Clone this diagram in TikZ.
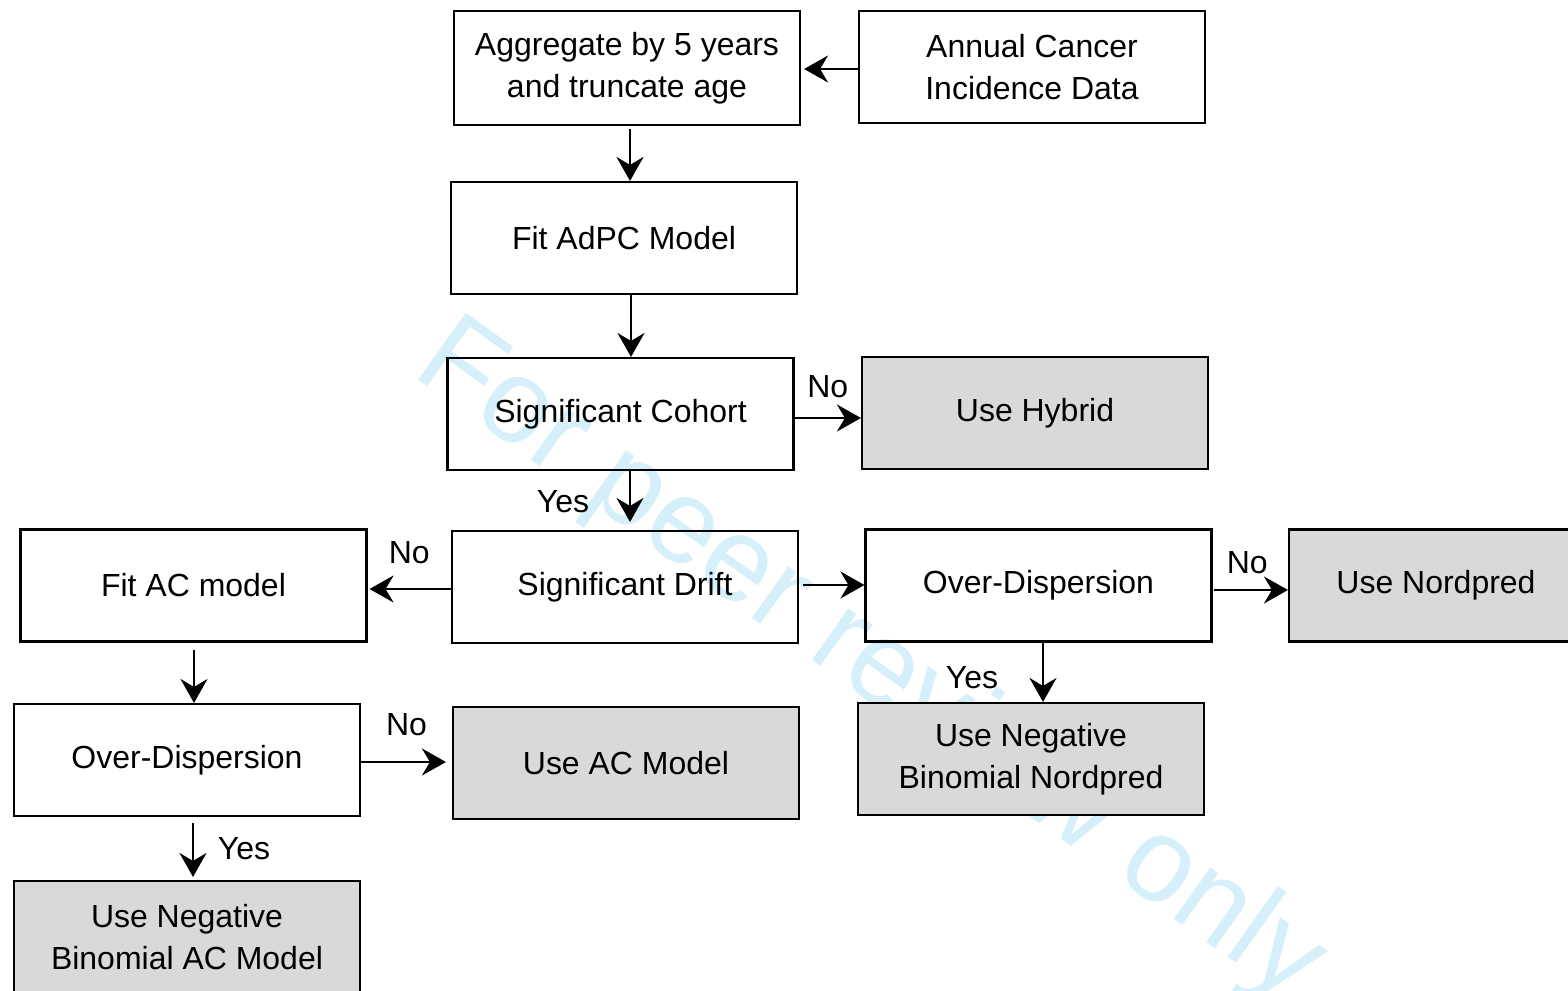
\documentclass[tikz,border=0pt]{standalone}
\usepackage{fontspec}
\setmainfont{Liberation Sans}
\usetikzlibrary{arrows.meta,positioning}
\definecolor{wmblue}{RGB}{214,240,251}
\definecolor{boxgray}{RGB}{217,217,217}
\tikzset{
>={Stealth[length=2.4mm,width=2.7mm,inset=0.8mm]}, % open-backed arrow heads
every node/.style={font=\fontsize{9.1}{12}\selectfont},
stage/.style={draw, line width=0.6pt, minimum width=3.46cm, minimum height=1.12cm, align=center, inner sep=0pt}, % plain step
result/.style={stage, fill=boxgray}, % final choice
flow/.style={->, line width=0.6pt},
lbl/.style={inner sep=0pt}
}

\begin{document}
\begin{tikzpicture}
    \useasboundingbox (0,0) rectangle (15.68,-9.90);
    \clip (0,0) rectangle (15.68,-9.90);
    % watermark behind everything
    \node[text=wmblue, font=\fontsize{34}{34}\selectfont, rotate=-35.5, anchor=base west, inner sep=0pt] (mark) at (4.10,-3.74) {For peer review only};
    % boxes
    \node[stage, minimum height=1.14cm] (agg) at (6.27,-0.68) {Aggregate by 5 years\\and truncate age};
    \node[stage] (annual) at (10.32,-0.67) {Annual Cancer\\Incidence Data};
    \node[stage] (adpc) at (6.24,-2.38) {Fit AdPC Model};
    \node[stage] (cohort) at (6.205,-4.14) {Significant Cohort};
    \node[result] (hybrid) at (10.35,-4.13) {Use Hybrid};
    \node[stage] (drift) at (6.25,-5.87) {Significant Drift};
    \node[stage] (fitac) at (1.935,-5.855) {Fit AC model};
    \node[stage] (disp) at (10.385,-5.855) {Over-Dispersion};
    \node[result, minimum width=2.94cm] (nordpred) at (14.36,-5.855) {Use Nordpred};
    \node[stage] (dispac) at (1.87,-7.60) {Over-Dispersion};
    \node[result] (useac) at (6.26,-7.63) {Use AC Model};
    \node[result] (nbnord) at (10.31,-7.59) {Use Negative\\Binomial Nordpred};
    \node[result] (nbac) at (1.87,-9.37) {Use Negative\\Binomial AC Model};
    % connectors
    \draw[flow, shorten >=0.03cm] ([yshift=-0.02cm]annual.west) -- ([yshift=-0.02cm]annual.west -| agg.east);
    \draw[flow] ([xshift=0.03cm,yshift=-0.03cm]agg.south) -- ([xshift=0.06cm]adpc.north);
    \draw[flow] ([xshift=0.07cm]adpc.south) -- ([xshift=0.07cm]adpc.south |- cohort.north);
    \draw[flow] ([yshift=-0.04cm]cohort.east) -- ([yshift=-0.04cm]cohort.east -| hybrid.west)
        node[lbl, midway, yshift=0.31cm] (no1) {No};
    \draw[flow] ([xshift=0.095cm]cohort.south) -- ([xshift=0.095cm,yshift=0.08cm]cohort.south |- drift.north)
        node[lbl, midway, xshift=-0.67cm, yshift=-0.05cm] (yes1) {Yes};
    \draw[flow, shorten >=0.02cm] ([yshift=-0.02cm]drift.west) -- ([yshift=-0.02cm]drift.west -| fitac.east)
        node[lbl, midway, yshift=0.36cm] (no2) {No};
    \draw[flow, shorten <=0.04cm] ([yshift=0.02cm]drift.east) -- ([yshift=0.02cm]drift.east -| disp.west);
    \draw[flow, shorten <=0.01cm] ([yshift=-0.045cm]disp.east) -- ([yshift=-0.045cm]disp.east -| nordpred.west)
        node[lbl, midway, xshift=-0.03cm, yshift=0.27cm] (no3) {No};
    \draw[flow] ([xshift=0.045cm]disp.south) -- ([xshift=0.045cm]disp.south |- nbnord.north)
        node[lbl, midway, xshift=-0.71cm, yshift=-0.05cm] (yes2) {Yes};
    \draw[flow, shorten <=0.07cm] ([xshift=0.005cm]fitac.south) -- ([xshift=0.005cm]fitac.south |- dispac.north);
    \draw[flow, shorten >=0.06cm] ([yshift=-0.02cm]dispac.east) -- ([yshift=-0.02cm]dispac.east -| useac.west)
        node[lbl, midway, yshift=0.37cm] (no4) {No};
    \draw[flow, shorten <=0.06cm, shorten >=0.03cm] ([xshift=0.06cm]dispac.south) -- ([xshift=0.06cm]dispac.south |- nbac.north)
        node[lbl, midway, xshift=0.51cm] (yes3) {Yes};
\end{tikzpicture}
\end{document}
